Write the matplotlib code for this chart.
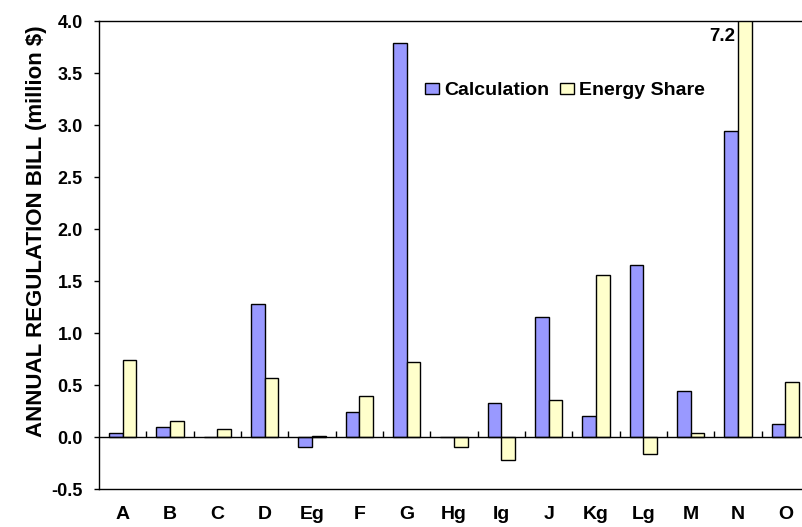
import numpy as np
import matplotlib
matplotlib.use("Agg")
import matplotlib.pyplot as plt

categories = ["A", "B", "C", "D", "Eg", "F", "G", "Hg", "Ig", "J", "Kg", "Lg", "M", "N", "O"]
calculation = [0.035, 0.093, 0.0, 1.28, -0.10, 0.24, 3.786, 0.0, 0.327, 1.157, 0.202, 1.657, 0.439, 2.94, 0.128]
energy_share = [0.74, 0.154, 0.074, 0.564, 0.005, 0.394, 0.718, -0.099, -0.224, 0.359, 1.558, -0.167, 0.042, 7.2, 0.526]
yticks = [-0.5, 0.0, 0.5, 1.0, 1.5, 2.0, 2.5, 3.0, 3.5, 4.0]

plt.rcParams['font.family'] = ['Liberation Sans', 'DejaVu Sans']
plt.rcParams['font.weight'] = 'bold'

fig = plt.figure(figsize=(8.03, 5.27), dpi=100)
ax = fig.add_axes([99 / 803, 38 / 527, 710 / 803, 468 / 527])

x = np.arange(len(categories))
w = 0.29
ax.bar(x - w / 2, calculation, w, color="#9999FF", edgecolor="black", linewidth=1.0, label="Calculation")
ax.bar(x + w / 2, energy_share, w, color="#FFFFCC", edgecolor="black", linewidth=1.0, label="Energy Share")

ax.set_xlim(-0.5, len(categories) - 0.5)
ax.set_ylim(-0.5, 4.0)
ax.set_yticks(yticks)
ax.set_yticklabels([f"{v:.1f}" for v in yticks], fontsize=13, fontweight='bold')
ax.tick_params(axis='y', direction='out', length=3.6, width=1, pad=8)

ax.set_xticks(x)
ax.set_xticklabels(categories, fontsize=14, fontweight='bold')
ax.tick_params(axis='x', length=0, pad=12)

for s in ['left', 'top', 'bottom', 'right']:
    ax.spines[s].set_linewidth(1.0)

# zero line with category-boundary tick marks
ax.axhline(0, color="black", linewidth=1.0, zorder=3)
bounds = np.arange(len(categories) + 1) - 0.5
ax.vlines(bounds[1:-1], 0, 0.055, color="black", linewidth=1.0, zorder=3)

fig.text(37 / 803, 1 - 231 / 527, "ANNUAL REGULATION BILL (million $)", rotation=90,
         ha="center", va="center", fontsize=16, fontweight='bold')

# value label for clipped bar
idx = categories.index("N")
ax.annotate(f"{energy_share[idx]:.1f}", xy=(x[idx], 4.0), xytext=(-2, -5),
            textcoords="offset points", ha="right", va="top", fontsize=13.5, fontweight='bold')

leg = ax.legend(loc="center left", bbox_to_anchor=(425 / 803, 1 - 91 / 527), bbox_transform=fig.transFigure,
                ncol=2, frameon=False, fontsize=14, handlelength=0.72, handleheight=0.55,
                handletextpad=0.26, columnspacing=0.55, borderaxespad=0, borderpad=0)
for t in leg.get_texts():
    t.set_fontweight('bold')

fig.savefig("out.png", dpi=100)
